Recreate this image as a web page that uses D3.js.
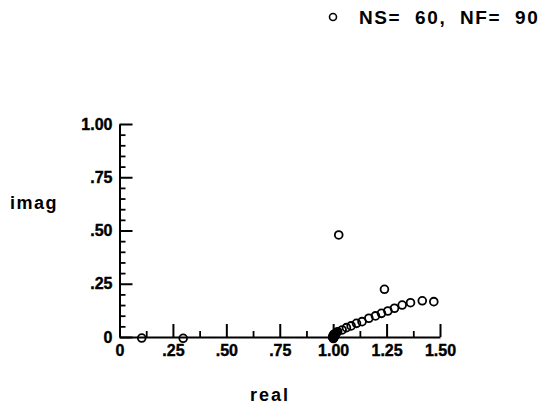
<!DOCTYPE html>
<html>
    <head>
        <script src="https://cdn.jsdelivr.net/npm/d3@7"></script>
    </head>
    <style>
        body { margin: 0; background: #fff; }
        text { font-family: 'Liberation Sans', Arial, sans-serif; font-weight: bold; fill: #000; }
    </style>
    <body>
        <div id="canvas"></div>
        <script>
            // points (real, imag)
            var realVals = [0.104, 0.298, 1.026, 1.240,
                1.471, 1.417, 1.362, 1.323, 1.287, 1.256, 1.226, 1.198, 1.167, 1.135,
                1.109, 1.084, 1.062, 1.042, 1.021, 1.016, 1.012, 1.009, 1.006, 1.004,
                1.003, 1.002, 1.001, 1.000, 1.000, 1.001, 1.003, 1.005,
                0.998, 0.999, 1.002, 1.004, 1.007, 1.010];
            var imagVals = [-0.005, -0.006, 0.479, 0.224,
                0.166, 0.170, 0.161, 0.150, 0.135, 0.122, 0.111, 0.099, 0.088, 0.072,
                0.064, 0.052, 0.044, 0.033, 0.025, 0.021, 0.017, 0.014, 0.011, 0.008,
                0.006, 0.004, 0.002, 0.000, -0.004, -0.007, -0.003, 0.001,
                -0.002, 0.005, 0.009, 0.013, 0.006, 0.010];

            var xTicks = [0, 0.25, 0.5, 0.75, 1.0, 1.25, 1.5];
            var xTickLabels = ['0', '.25', '.50', '.75', '1.00', '1.25', '1.50'];
            var yTicks = [0, 0.25, 0.5, 0.75, 1.0];
            var yTickLabels = ['0', '.25', '.50', '.75', '1.00'];
            var legendText = 'NS=  60,  NF=  90';

            const w = 539;
            const h = 407;

            const svg = d3.select('#canvas')
                .append('svg')
                .attr('width', w)
                .attr('height', h);

            const x = d3.scaleLinear().domain([0, 1.5]).range([119.5, 440]);
            const y = d3.scaleLinear().domain([0, 1]).range([337, 124]);

            // minor ticks
            var xMinor = d3.range(0, 1.5001, 0.125).filter(v => xTicks.indexOf(v) < 0);
            var yMinor = d3.range(0, 1.0001, 0.05).map(v => +v.toFixed(2)).filter(v => yTicks.indexOf(v) < 0);

            svg.append('g')
                .attr('transform', `translate(0,${y(0)})`)
                .call(d3.axisBottom(x).tickValues(xMinor).tickSize(-6).tickFormat('').tickSizeOuter(0))
                .call(g => g.select('.domain').remove())
                .call(g => g.selectAll('line').attr('stroke-width', 1.8));
            svg.append('g')
                .attr('transform', `translate(${x(0)},0)`)
                .call(d3.axisLeft(y).tickValues(yMinor).tickSize(-6).tickFormat('').tickSizeOuter(0))
                .call(g => g.select('.domain').remove())
                .call(g => g.selectAll('line').attr('stroke-width', 1.8));

            // major ticks + labels
            const xAxis = svg.append('g')
                .attr('transform', `translate(0,${y(0)})`)
                .call(d3.axisBottom(x).tickValues(xTicks).tickSize(-13).tickSizeOuter(0)
                    .tickPadding(8).tickFormat((d, i) => xTickLabels[i]));
            xAxis.selectAll('path, line').attr('stroke-width', 2);
            xAxis.selectAll('text').attr('font-size', 16).attr('font-family', null)
                .attr('stroke', '#000').attr('stroke-width', 0.4);

            const yAxis = svg.append('g')
                .attr('transform', `translate(${x(0)},0)`)
                .call(d3.axisLeft(y).tickValues(yTicks).tickSize(-13).tickSizeOuter(0)
                    .tickPadding(7).tickFormat((d, i) => yTickLabels[i]));
            yAxis.selectAll('path, line').attr('stroke-width', 2);
            yAxis.selectAll('text').attr('font-size', 16).attr('font-family', null)
                .attr('stroke', '#000').attr('stroke-width', 0.4);

            // points
            svg.append('g')
                .selectAll('circle')
                .data(realVals.map((r, i) => [r, imagVals[i]]))
                .enter()
                .append('circle')
                .attr('cx', d => x(d[0]))
                .attr('cy', d => y(d[1]))
                .attr('r', 3.9)
                .attr('fill', 'none')
                .attr('stroke', '#000')
                .attr('stroke-width', 1.8);

            // axis titles
            svg.append('text')
                .attr('x', 10).attr('y', 209)
                .attr('font-size', 18)
                .attr('letter-spacing', 1.5)
                .text('imag');
            svg.append('text')
                .attr('x', 250).attr('y', 401)
                .attr('font-size', 18)
                .attr('letter-spacing', 2)
                .text('real');

            // legend
            svg.append('circle')
                .attr('cx', 333).attr('cy', 17).attr('r', 3.5)
                .attr('fill', 'none').attr('stroke', '#000').attr('stroke-width', 1.6);
            svg.append('text')
                .attr('x', 359).attr('y', 24)
                .attr('font-size', 19)
                .attr('letter-spacing', 1.6)
                .style('white-space', 'pre')
                .text(legendText);
        </script>
    </body>
</html>
